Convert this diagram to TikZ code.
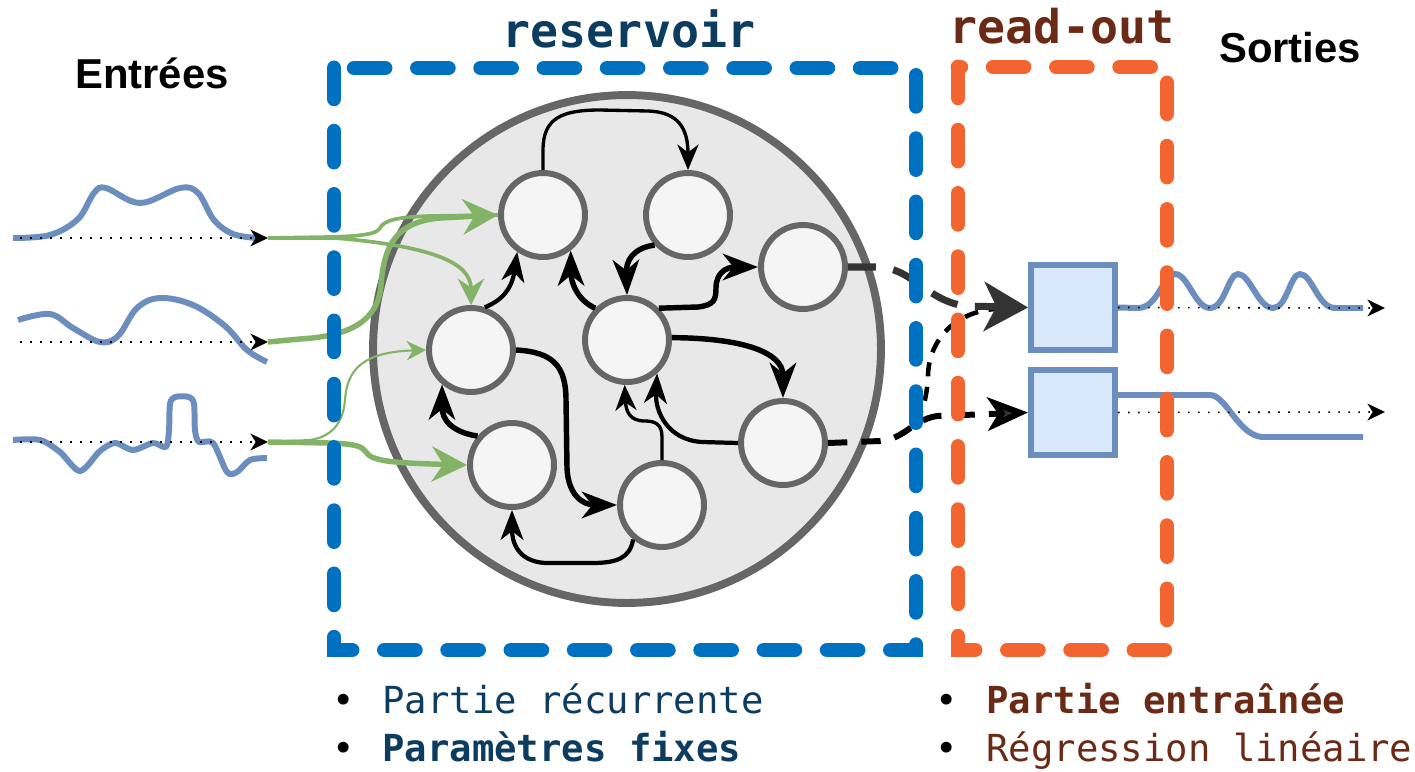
\documentclass[tikz,border=0pt]{standalone}
\usepackage{fontspec}
\newfontfamily\monof{DejaVu Sans Mono}
\newfontfamily\headf{Liberation Sans}
\usetikzlibrary{arrows.meta}
\definecolor{resblue}{HTML}{0070C0}
\definecolor{roorange}{HTML}{F26430}
\definecolor{wavec}{HTML}{6C8EBF}
\definecolor{boxfill}{HTML}{DAE8FC}
\definecolor{greenc}{HTML}{82B366}
\definecolor{nodegray}{HTML}{666666}
\definecolor{nodefill}{HTML}{F5F5F5}
\definecolor{resfill}{HTML}{E8E8E8}
\definecolor{darkc}{HTML}{333333}
\definecolor{txtblue}{HTML}{0D3C61}
\definecolor{txtbrown}{HTML}{6B2A16}
\tikzset{
  neuron/.style={circle,draw=nodegray,fill=nodefill,line width=3.4pt,minimum size=1.68cm,inner sep=0pt},
  bigres/.style={circle,draw=nodegray,fill=resfill,line width=4.5pt,minimum size=10.16cm,inner sep=0pt},
  outbox/.style={rectangle,draw=wavec,fill=boxfill,line width=3.4pt,minimum width=1.68cm,minimum height=1.7cm,inner sep=0pt},
  blk/.style={draw=black,line join=round},
  arA/.style={blk,line width=1.9pt,-{Stealth[length=14.5pt,width=12pt,inset=4.5pt]}},
  arB/.style={blk,line width=2.4pt,-{Stealth[length=17pt,width=13pt,inset=5pt]}},
  arC/.style={blk,line width=3.1pt,-{Stealth[length=20pt,width=15pt,inset=6pt]}},
  gbase/.style={draw=greenc,line join=round},
  gthin/.style={gbase,line width=1.2pt},
  gmed/.style={gbase,line width=2.1pt},
  gthick/.style={gbase,line width=3.1pt},
  gtipS/.style={-{Stealth[length=11pt,width=11pt,inset=3.5pt]}},
  gtipM/.style={-{Stealth[length=15pt,width=15pt,inset=5pt]}},
  gtipL/.style={-{Stealth[length=20pt,width=20pt,inset=6.5pt]}},
  wave/.style={draw=wavec,line width=3.4pt,line join=round,line cap=butt},
  dotarr/.style={draw=black,line width=0.9pt,dash pattern=on 0.9pt off 4.8pt,-{Stealth[length=10pt,width=9.6pt,inset=3pt]}},
  frameblue/.style={draw=resblue,line width=8.5pt,line cap=round,dash pattern=on 17.5pt off 18.5pt},
  frameorange/.style={draw=roorange,line width=8.5pt,line cap=round,dash pattern=on 17.5pt off 18.5pt},
  headtxt/.style={font=\headf\bfseries\fontsize{23.8pt}{28pt}\selectfont,anchor=base,inner sep=0pt},
  titletxt/.style={font=\monof\bfseries\fontsize{26.5pt}{30pt}\selectfont,anchor=base,inner sep=0pt},
  bul/.style={font=\monof\fontsize{21.2pt}{24pt}\selectfont,anchor=base,inner sep=0pt,text=black},
  btxt/.style={font=\monof\fontsize{21.2pt}{24pt}\selectfont,anchor=base west,inner sep=0pt},
  btxtb/.style={font=\monof\bfseries\fontsize{21.2pt}{24pt}\selectfont,anchor=base west,inner sep=0pt}
}
\begin{document}
\begin{tikzpicture}[x=0.02cm,y=-0.02cm]
\useasboundingbox (0,0) rectangle (1415,771);

% reservoir
\node[bigres] (res) at (627,349) {};
\node[neuron] (N1) at (543,215) {};
\node[neuron] (N2) at (688,215) {};
\node[neuron] (N3) at (803,267) {};
\node[neuron] (N4) at (471,350) {};
\node[neuron] (N5) at (627,340) {};
\node[neuron] (N6) at (783,443) {};
\node[neuron] (N7) at (512,465) {};
\node[neuron] (N8) at (662,505) {};

% read-out boxes
\node[outbox] (B1) at (1073,307.5) {};
\node[outbox] (B2) at (1073,412.5) {};

% internal recurrent connections
\draw[arA] (N1.north) -- (543,150) .. controls (543,118) and (562,110) .. (600,110) -- (648,111) .. controls (678,112) and (688,128) .. (N2.north);
\draw[arB] (N4.72) .. controls (503,300) and (512,288) .. (N1.235);
\draw[arC] (N5.135) .. controls (577,300) and (571,282) .. (N1.-52);
\draw[arC] (N2.222) .. controls (632,248) and (626,262) .. (N5.north);
\draw[arC] (N5.45) -- (698,307) .. controls (714,305) and (716,300) .. (716,288) .. controls (716,273) and (726,267) .. (N3.west);
\draw[arC] (N5.3) .. controls (742,338) and (783,352) .. (N6.north);
\draw[arB] (N6.west) -- (702,442) .. controls (668,440) and (655,412) .. (N5.-48);
\draw[arA] (N8.north) -- (662,437) .. controls (662,425) and (656,421) .. (645,421) .. controls (630,421) and (626,412) .. (N5.-93);
\draw[arC] (N4.east) .. controls (553,352) and (566,366) .. (566,400) -- (567,468) .. controls (568,494) and (582,505) .. (N8.west);
\draw[arC] (N7.140) .. controls (452,432) and (442,420) .. (N4.230);
\draw[arB] (N8.230) .. controls (630,558) and (617,563) .. (592,563) -- (545,563) .. controls (516,561) and (512,540) .. (N7.south);

% inputs
\coordinate (in1) at (268,238);
\coordinate (in2) at (268,342);
\coordinate (in3) at (268,442);
\coordinate (s1) at (20,238);
\coordinate (s2) at (20,342);
\coordinate (s3) at (20,442);

\draw[wave] plot[smooth,tension=0.6] coordinates {(13,238) (50,235) (78,219) (94,193) (106,188) (140,203) (180,188) (198,193) (214,220) (233,234) (257,238)};
\draw[wave] plot[smooth,tension=0.6] coordinates {(18,320) (50,314) (73,328) (100,342) (118,336) (137,308) (160,298) (193,305) (225,326) (247,350) (267,362)};
\draw[wave] plot[smooth,tension=0.5] coordinates {(13,440) (40,440) (60,452) (80,471) (100,451) (115,443) (133,450) (153,443) (166,447) (169,430) (170,404) (175,397) (189,397) (194,404) (195,430) (199,442) (213,443) (227,472) (237,472) (250,460) (267,458)};

\draw[dotarr] (s1) -- (in1);
\draw[dotarr] (s2) -- (in2);
\draw[dotarr] (s3) -- (in3);

% input weights (green)
\draw[gmed,gtipM] (in1) -- (335,238) .. controls (430,246) and (471,262) .. (N4.north);
\draw[gmed] (in1) -- (330,237) .. controls (368,236) and (377,233) .. (380,228) .. controls (384,220) and (398,217) .. (430,216) -- (N1.west);
\draw[gthick,gtipL] (in2) -- (300,339) .. controls (352,336) and (378,320) .. (381,285) .. controls (384,245) and (396,222) .. (440,218) -- (N1.west);
\draw[gthin,gtipS] (in3) -- (310,440) .. controls (330,437) and (343,425) .. (345,400) .. controls (347,370) and (362,352) .. (N4.west);
\draw[gthick,gtipL] (in3) -- (330,443) .. controls (355,444) and (362,446) .. (366,452) .. controls (371,461) and (392,463) .. (N7.west);

% reservoir to read-out
\coordinate (p3s) at (895,437);
\coordinate (p3e) at (995,309);
\draw[draw=black,line width=2.6pt,dash pattern=on 8pt off 6pt] (p3s) .. controls (918,430) and (927,405) .. (928,375) .. controls (929,340) and (955,312) .. (p3e);
\draw[draw=darkc,line width=4pt,dash pattern=on 15.9pt off 10pt,-{Stealth[length=25pt,width=28pt,inset=7pt]}] (N3.east) -- (876,267) .. controls (912,267) and (925,300) .. (965,306) -- (B1.west);
\draw[draw=black,line width=3.4pt,dash pattern=on 11pt off 8pt,-{Stealth[length=23pt,width=19pt,inset=6pt,fill=darkc]}] (N6.east) -- (880,441) .. controls (905,439) and (912,420) .. (937,416) -- (B2.west);

% outputs
\coordinate (o1) at (1385,308);
\coordinate (o2) at (1385,412);
\coordinate (w2s) at (1117,395);
\draw[wave] (B1.east) -- (1138,308) .. controls (1158,308) and (1163,274) .. (1175,274) .. controls (1188,274) and (1195,308) .. (1210,308) .. controls (1225,308) and (1228,274) .. (1238,274) .. controls (1250,274) and (1258,308) .. (1273,308) .. controls (1287,308) and (1290,274) .. (1300,274) .. controls (1312,274) and (1318,308) .. (1335,308) -- (1363,308);
\draw[wave] (w2s) -- (1210,395) .. controls (1226,395) and (1238,435) .. (1262,437) -- (1363,437);
\draw[dotarr] (B1.east) -- (o1);
\draw[dotarr] (B2.east) -- (o2);

% frames
\draw[frameblue] (334,68) rectangle (916,650);
\draw[frameorange] (958,67) rectangle (1167,650);

% texts
\node[headtxt] (tin) at (152,88) {Entrées};
\node[headtxt] (tout) at (1290,62) {Sorties};
\node[titletxt,text=txtblue] (tres) at (629,47) {reservoir};
\node[titletxt,text=txtbrown] (tro) at (1062,43) {read-out};

\node[bul] (b1) at (344,713) {•};
\node[btxt,text=txtblue] (t1) at (382,713) {Partie récurrente};
\node[bul] (b2) at (344,761) {•};
\node[btxtb,text=txtblue] (t2) at (382,761) {Paramètres fixes};
\node[bul] (b3) at (947,713) {•};
\node[btxtb,text=txtbrown] (t3) at (986,713) {Partie entraînée};
\node[bul] (b4) at (947,761) {•};
\node[btxt,text=txtbrown] (t4) at (986,761) {Régression linéaire};
\end{tikzpicture}
\end{document}
